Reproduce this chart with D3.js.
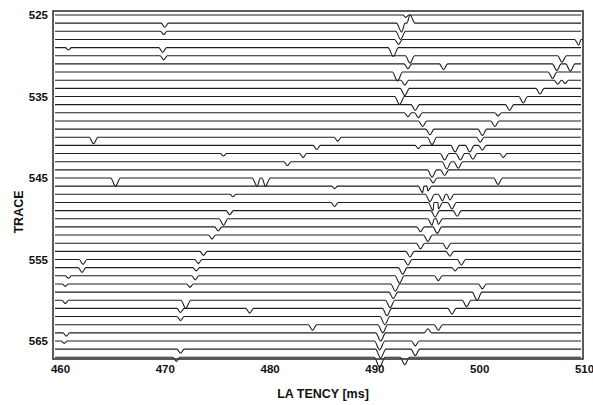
<!DOCTYPE html>
<html>
<meta charset="utf-8">
<title>Trace stack</title>
<style>
body { margin: 0; background: #fff; }
.axis text { font-family: 'Liberation Sans Narrow', 'Liberation Sans', Arial, sans-serif; font-size: 11.5px; font-weight: bold; fill: #111; }
.axis path, .axis line { display: none; }
.title { font-family: 'Liberation Sans', Arial, sans-serif; font-size: 12.5px; font-weight: bold; fill: #111; }
.trace { fill: none; stroke: #1e1e1e; stroke-width: 1.1; stroke-linejoin: round; }
</style>
<script src="https://d3js.org/d3.v7.min.js"></script>
<body>
<div id="chart"></div>
<script>
// trace numbers, first to last
var first_trace = 525;
var last_trace = 567;
var trace_ticks = [525, 535, 545, 555, 565];
var latency_ticks = [460, 470, 480, 490, 500, 510];

// dips (and a few peaks) read per trace: [latency ms, amplitude in trace spacings, negative = down]
var trace_events = [
  [[493.0, -0.3]],
  [[470.0, -0.5], [492.6, -1.1], [493.4, 1.0]],
  [[469.9, -0.4], [492.5, -1.0]],
  [[492.3, -0.6], [509.5, -0.7]],
  [[460.8, -0.3], [469.8, -0.6], [491.8, -1.1]],
  [[469.9, -0.5], [493.4, -0.9], [507.9, -0.8]],
  [[493.2, -0.6], [496.6, -0.7], [507.4, -0.8], [508.7, -0.9]],
  [[492.2, -1.1], [507.0, -0.8]],
  [[492.9, -0.6], [507.5, -0.5], [508.2, -0.4]],
  [[492.9, -0.9], [505.8, -0.7]],
  [[492.4, -1.0], [504.2, -0.8]],
  [[493.9, -0.7], [502.9, -0.7]],
  [[493.2, -0.5], [494.2, -0.6], [501.8, -0.4]],
  [[494.6, -0.7], [501.5, -0.7]],
  [[495.3, -0.7], [500.3, -0.8]],
  [[463.2, -0.8], [486.5, -0.5], [495.5, -0.9], [500.1, -0.6]],
  [[484.5, -0.5], [494.2, -0.4], [497.7, -0.8], [499.1, -0.8], [500.3, -0.6]],
  [[475.6, -0.3], [483.2, -0.5], [496.7, -0.8], [498.2, -0.8], [499.4, -0.7], [502.3, -0.5]],
  [[481.7, -0.5], [496.9, -0.9], [498.0, -0.8]],
  [[495.5, -0.9], [496.7, -0.7]],
  [[465.3, -1.0], [478.8, -1.0], [479.6, -1.0], [495.6, -0.6], [501.8, -0.8]],
  [[486.2, -0.3], [494.6, -0.8], [495.1, -0.6]],
  [[476.5, -0.3], [495.3, -0.9], [496.5, -0.8], [497.2, -0.7]],
  [[486.2, -0.5], [495.6, -1.0], [496.1, -0.8], [497.4, -0.8]],
  [[476.2, -0.5], [495.8, -0.8], [497.9, -0.7]],
  [[475.6, -0.8], [495.5, -0.8], [496.1, -0.7]],
  [[475.1, -0.5], [494.4, -0.6], [496.0, -0.8]],
  [[474.5, -0.5], [495.1, -0.8]],
  [[494.4, -0.7], [496.9, -0.7]],
  [[473.7, -0.5], [493.4, -0.7], [497.2, -0.6]],
  [[462.2, -0.6], [473.2, -0.5], [493.2, -0.7], [498.3, -0.7]],
  [[462.1, -0.6], [473.0, -0.4], [492.7, -0.8], [497.7, -0.4]],
  [[460.8, -0.3], [472.9, -0.5], [492.4, -0.9], [496.1, -0.6]],
  [[460.5, -0.3], [472.4, -0.4], [492.0, -0.9], [500.3, -0.6]],
  [[491.8, -0.8], [499.8, -1.0]],
  [[460.5, -0.4], [472.0, -1.0], [491.5, -0.9], [498.8, -0.8]],
  [[471.5, -0.5], [478.1, -0.6], [491.2, -0.9], [497.4, -0.7]],
  [[471.5, -0.5], [491.0, -1.0]],
  [[484.1, -0.7], [490.8, -1.0], [496.1, -0.7]],
  [[460.6, -0.4], [490.6, -1.0], [495.1, 0.5]],
  [[460.4, -0.3], [490.5, -1.1], [493.9, -0.6]],
  [[471.5, -0.5], [490.6, -1.1], [493.9, -0.8]],
  [[471.1, -0.5], [490.5, -1.2], [492.9, -0.9]]
];

var width = 593, height = 405;
var frame = { left: 53, right: 583, top: 11, bottom: 359 };

var x = d3.scaleLinear().domain([460, 510]).range([60, 584]);
var y = d3.scaleLinear().domain([first_trace, last_trace]).range([15, 357.3]);

var svg = d3.select("#chart").append("svg")
            .attr("width", width)
            .attr("height", height);

// traces run across the whole frame
var t0 = x.invert(frame.left + 2), t1 = x.invert(frame.right - 2);

function trace_points(events) {
  var pts = [[t0, 0]];
  events.forEach(function(e) {
    var w = 0.22 + 0.25 * Math.abs(e[1]);
    pts.push([e[0] - w, 0], [e[0], e[1]], [e[0] + w, 0]);
  });
  pts.push([t1, 0]);
  return pts.sort(function(a, b) { return a[0] - b[0]; });
}

var traces = trace_events.map(function(ev, i) {
  return { trace: first_trace + i, pts: trace_points(ev) };
});

var line = function(d) {
  return d3.line()
           .curve(d3.curveMonotoneX)
           .x(function(p) { return x(p[0]); })
           .y(function(p) { return y(d.trace - p[1]); })(d.pts);
};

svg.selectAll(".trace")
   .data(traces)
   .enter()
   .append("path")
   .attr("class", "trace")
   .attr("d", line);

svg.append("rect")
   .attr("x", frame.left)
   .attr("y", frame.top)
   .attr("width", frame.right - frame.left)
   .attr("height", frame.bottom - frame.top)
   .attr("fill", "none")
   .attr("stroke", "#333")
   .attr("stroke-width", 1.6);

svg.append("g")
   .attr("class", "axis")
   .attr("transform", "translate(0," + (frame.bottom + 3) + ")")
   .call(d3.axisBottom(x).tickValues(latency_ticks).tickSize(0).tickFormat(d3.format("d")));

svg.append("g")
   .attr("class", "axis")
   .attr("transform", "translate(" + (frame.left - 5) + ",0)")
   .call(d3.axisLeft(y).tickValues(trace_ticks).tickSize(0).tickPadding(0).tickFormat(d3.format("d")));

svg.append("text")
   .attr("class", "title")
   .attr("text-anchor", "middle")
   .attr("x", 323)
   .attr("y", 398)
   .text("LA TENCY [ms]");

svg.append("text")
   .attr("class", "title")
   .attr("text-anchor", "middle")
   .attr("transform", "translate(23,212) rotate(-90)")
   .text("TRACE");
</script>
</body>
</html>
